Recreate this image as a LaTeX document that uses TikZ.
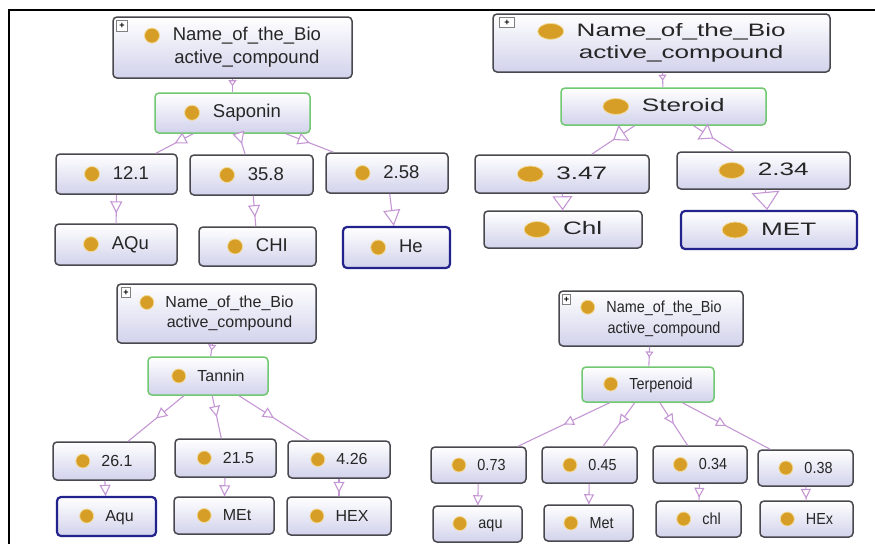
\documentclass[tikz,border=0pt]{standalone}
\usepackage{fontspec}
\setmainfont{Liberation Sans}
\newfontfamily\wideface[FakeStretch=1.45]{Liberation Sans}
\newfontfamily\slimface[FakeStretch=0.9]{Liberation Sans}
\usetikzlibrary{arrows.meta,decorations.markings}

\definecolor{boxedge}{RGB}{72,72,78}
\definecolor{boxfill}{RGB}{210,210,236}
\definecolor{clsedge}{RGB}{112,200,112}
\definecolor{pickedge}{RGB}{34,34,140}
\definecolor{edgeviolet}{RGB}{196,150,212}
\definecolor{dotfill}{RGB}{214,158,38}
\definecolor{dothalo}{RGB}{242,218,150}

\tikzset{
  box/.style={rectangle, rounded corners=4pt, draw=boxedge, line width=1.5pt,
    top color=white, bottom color=boxfill, inner sep=2pt, text=black!85},
  cls/.style={box, draw=clsedge},
  pick/.style={box, draw=pickedge, line width=2.2pt},
  wh/.style 2 args={minimum width=#1, minimum height=#2},
  plusbox/.style={anchor=north west, draw=gray, fill=white, inner sep=0pt,
    line width=0.6pt, font=\fontsize{9}{9}\selectfont\bfseries},
  blob/.style={fill=dotfill, draw=dothalo, line width=0.8pt},
  blobsize/.style={x radius=7pt, y radius=7pt},
  link/.style={draw=edgeviolet, color=edgeviolet, line width=1.1pt},
  isa/.style={link, postaction=decorate,
    decoration={markings, mark=at position #1 with {\arrow{>}}}},
  isa/.default=0.5,
  sub/.style={link, postaction=decorate,
    decoration={markings, mark=at position 0.55 with {\arrow{Triangle[fill=white,length=6pt,width=8pt]}}}},
}

% dot in front of every label
\newcommand{\blob}{\tikz[baseline=-5pt]\path[blob] (0,0) circle [blobsize];}
\newcommand{\entry}[1]{\blob\hspace{0.7em}#1}

\begin{document}
\begin{tikzpicture}[x=1pt, y=-1pt]
  \useasboundingbox (0,0) rectangle (875,544);
  % frame
  \draw[line width=1.2pt] (875,10) -- (9,10) -- (9,544);

  % Saponin
  \begin{scope}[every node/.append style={font=\fontsize{18.5}{23}\selectfont},
      blobsize/.style={x radius=7.5pt, y radius=7.5pt},
      >={Triangle[fill=white,length=12pt,width=12pt]}]
    \node[box, wh={239}{61}] (rootA) at (232.5,47.5)
      {\blob\hspace{0.7em}\begin{tabular}[t]{@{}c@{}}Name\_of\_the\_Bio\\active\_compound\end{tabular}};
    \node[plusbox, wh={11}{11}] (plusA) at ([shift={(4,4)}]rootA.north west) {+};
    \node[cls, wh={155}{40}] (sapo) at (232.5,113) {\entry{Saponin}};
    \node[box, wh={121}{40}] (v121) at (116.5,174) {\entry{12.1}};
    \node[box, wh={123}{40}] (v358) at (251.5,175) {\entry{35.8}};
    \node[box, wh={122}{40}] (v258) at (387,173) {\entry{2.58}};
    \node[box, wh={122}{41}] (aquA) at (116,244.5) {\entry{AQu}};
    \node[box, wh={117}{39}] (chiA) at (257.5,246.5) {\entry{CHI}};
    \node[pick, wh={107}{41}] (heA) at (396.5,247.5) {\entry{He}};
    \draw[sub] (rootA) -- (sapo);
    \draw[isa] (sapo) -- (v121);
    \draw[isa] (sapo) -- (v358);
    \draw[isa] (sapo) -- (v258);
    \draw[isa=0.65] (v121) -- (aquA);
    \draw[isa=0.7] (v358) -- (chiA);
    \draw[isa=1, >={Triangle[fill=white,length=16pt,width=17pt]}] (v258) -- (heA);
  \end{scope}

  % Steroid
  \begin{scope}[every node/.append style={font=\wideface\fontsize{18}{22}\selectfont},
      blobsize/.style={x radius=13pt, y radius=8pt},
      >={Triangle[fill=white,length=13pt,width=19pt]}]
    \node[box, wh={337}{58}] (rootB) at (661.5,43)
      {\blob\hspace{0.7em}\begin{tabular}[t]{@{}c@{}}Name\_of\_the\_Bio\\active\_compound\end{tabular}};
    \node[plusbox, wh={15}{10}] (plusB) at ([shift={(7,4)}]rootB.north west) {+};
    \node[cls, wh={205}{37}] (ster) at (663.5,106.5) {\entry{Steroid}};
    \node[box, wh={174}{38}] (v347) at (562,174) {\entry{3.47}};
    \node[box, wh={173}{37}] (v234) at (763.5,170.5) {\entry{2.34}};
    \node[box, wh={158}{37}] (chlB) at (563,229.5) {\entry{Chl}};
    \node[pick, wh={176}{38}] (metB) at (769,230) {\entry{MET}};
    \draw[sub] (rootB) -- (ster);
    \draw[isa] (ster) -- (v347);
    \draw[isa] (ster) -- (v234);
    \draw[isa=1, >={Triangle[fill=white,length=14pt,width=20pt]}] (v347) -- (chlB);
    \draw[isa=1, >={Triangle[fill=white,length=18pt,width=28pt]}] (v234) -- (metB);
  \end{scope}

  % Tannin
  \begin{scope}[every node/.append style={font=\fontsize{16}{20}\selectfont},
      blobsize/.style={x radius=7pt, y radius=7pt},
      >={Triangle[fill=white,length=11pt,width=11pt]}]
    \node[box, wh={199}{59}] (rootC) at (216.5,313.5)
      {\blob\hspace{0.7em}\begin{tabular}[t]{@{}c@{}}Name\_of\_the\_Bio\\active\_compound\end{tabular}};
    \node[plusbox, wh={9}{10}] (plusC) at ([shift={(5,4)}]rootC.north west) {+};
    \node[cls, wh={120}{38}] (tann) at (208,376) {\entry{Tannin}};
    \node[box, wh={102}{38}] (v261) at (104,461) {\entry{26.1}};
    \node[box, wh={101}{38}] (v215) at (225.5,458) {\entry{21.5}};
    \node[box, wh={102}{37}] (v426) at (339,459.5) {\entry{4.26}};
    \node[pick, wh={99}{39}] (aquC) at (106.5,516.5) {\entry{Aqu}};
    \node[box, wh={100}{37}] (metC) at (224,515.5) {\entry{MEt}};
    \node[box, wh={104}{38}] (hexC) at (339,516) {\entry{HEX}};
    \draw[sub] (rootC) -- (tann);
    \draw[isa] (tann) -- (v261);
    \draw[isa] (tann) -- (v215);
    \draw[isa] (tann) -- (v426);
    \draw[isa=1] (v261) -- (aquC);
    \draw[isa=1] (v215) -- (metC);
    \draw[isa=0.8] (v426) -- (hexC);
  \end{scope}

  % Terpenoid
  \begin{scope}[every node/.append style={font=\slimface\fontsize{16}{21}\selectfont},
      blobsize/.style={x radius=7pt, y radius=7pt},
      >={Triangle[fill=white,length=10pt,width=10pt]}]
    \node[box, wh={184}{55}] (rootD) at (651,318.5)
      {\blob\hspace{0.7em}\begin{tabular}[t]{@{}c@{}}Name\_of\_the\_Bio\\active\_compound\end{tabular}};
    \node[plusbox, wh={8}{10}] (plusD) at ([shift={(4,4)}]rootD.north west) {+};
    \node[cls, wh={132}{35}] (terp) at (648,384.5) {\entry{Terpenoid}};
    \node[box, wh={95}{36}] (v073) at (478.5,465) {\entry{0.73}};
    \node[box, wh={95}{36}] (v045) at (589.5,465) {\entry{0.45}};
    \node[box, wh={94}{37}] (v034) at (700,464.5) {\entry{0.34}};
    \node[box, wh={95}{36}] (v038) at (805.5,468) {\entry{0.38}};
    \node[box, wh={89}{36}] (aquD) at (477.5,524) {\entry{aqu}};
    \node[box, wh={89}{36}] (metD) at (588.5,523) {\entry{Met}};
    \node[box, wh={85}{36}] (chlD) at (698.5,519) {\entry{chl}};
    \node[box, wh={93}{36}] (hexD) at (806.5,519) {\entry{HEx}};
    \draw[sub] (rootD) -- (terp);
    \draw[isa] (terp) -- (v073);
    \draw[isa] (terp) -- (v045);
    \draw[isa] (terp) -- (v034);
    \draw[isa] (terp) -- (v038);
    \draw[isa=1] (v073) -- (aquD);
    \draw[isa=1] (v045) -- (metD);
    \draw[isa=0.85] (v034) -- (chlD);
    \draw[isa=0.9] (v038) -- (hexD);
  \end{scope}
\end{tikzpicture}
\end{document}
